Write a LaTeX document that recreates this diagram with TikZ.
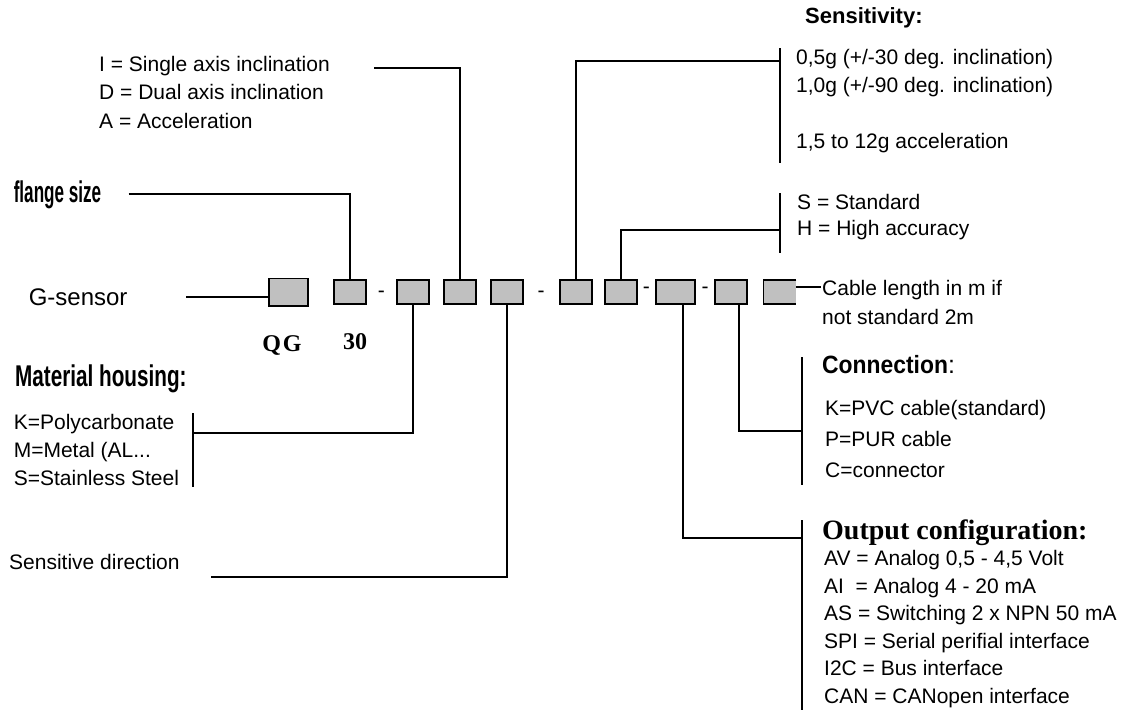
\documentclass[tikz,border=0pt]{standalone}
\usepackage{fontspec}
\setmainfont{Liberation Sans}
\newfontfamily\serifbf{Liberation Serif}
\usepackage{graphicx}
\usetikzlibrary{positioning,calc}
\definecolor{boxgray}{HTML}{C0C0C0}
\tikzset{
    cell/.style={draw, fill=boxgray, line width=1.8pt, minimum width=32pt, minimum height=24.5pt, inner sep=0pt},
    lbl/.style={anchor=west, inner sep=0pt, align=left, font=\fontsize{21}{28}\selectfont},
    sep/.style={inner sep=0pt, font=\fontsize{21}{21}\selectfont},
    wire/.style={line width=1.8pt}
}
\begin{document}
\begin{tikzpicture}[x=1pt, y=-1pt]
    \fill[white] (0,0) rectangle (1127,710);
    \useasboundingbox (0,0) rectangle (1127,710);

    \node[cell, minimum width=39.2pt, minimum height=27.2pt] (b1) at (288.5,292) {};
    \node[cell, right=24pt of b1] (b2) {};
    \node[cell, right=29pt of b2] (b3) {};
    \node[cell, right=13.5pt of b3] (b4) {};
    \node[cell, right=13pt of b4] (b5) {};
    \node[cell, right=35pt of b5] (b6) {};
    \node[cell, right=11.5pt of b6] (b7) {};
    \node[cell, right=17pt of b7, minimum width=39.2pt] (b8) {};
    \node[cell, right=18.5pt of b8] (b9) {};
    \node[cell, draw=none, right=14.5pt of b9] (b10) {};
    \draw[wire] ([yshift=-0.9pt]b10.north east) -- ([xshift=0.9pt,yshift=-0.9pt]b10.north west)
        -- ([xshift=0.9pt,yshift=0.9pt]b10.south west) -- ([yshift=0.9pt]b10.south east);

    \node[sep] (d1) at ($(b2.east)!0.5!(b3.west)+(0,2)$) {-};
    \node[sep] (d2) at ($(b5.east)!0.5!(b6.west)+(0,2)$) {-};
    \node[sep] (d3) at ($(b7.east)!0.5!(b8.west)+(0,-2)$) {-};
    \node[sep] (d4) at ($(b8.east)!0.5!(b9.west)+(0,-2)$) {-};

    \node[lbl, font=\fontsize{24}{24}\selectfont] (gsensor) at (28.6,297) {G-sensor};
    \node[lbl, font=\bfseries\fontsize{30}{30}\selectfont] (flange) at (13.6,195) {\scalebox{0.57}[1]{flange size}};
    \node[lbl, font=\fontsize{21}{28.5}\selectfont] (incl) at (99,92) {I = Single axis inclination\\D = Dual axis inclination\\A = Acceleration};
    \node[inner sep=0pt, font=\serifbf\bfseries\fontsize{24}{24}\selectfont] (qg) at (282,345) {Q\kern2pt G};
    \node[inner sep=0pt, font=\serifbf\bfseries\fontsize{24}{24}\selectfont] (size) at (355,342) {30};
    \node[lbl, font=\bfseries\fontsize{30}{30}\selectfont] (housing) at (15,379) {\scalebox{0.69}[1]{Material housing:}};
    \node[lbl] (material) at (13.6,450) {K=Polycarbonate\\M=Metal (AL...\\S=Stainless Steel};
    \node[lbl] (direction) at (9,562) {Sensitive direction};

    \node[lbl, font=\bfseries\fontsize{22}{22}\selectfont] (sens) at (805,18) {Sensitivity:};
    \node[lbl] (range) at (796,101) {0,5g (+/-30 deg. inclination)\\1,0g (+/-90 deg. inclination)\\[28pt]1,5 to 12g acceleration};
    \node[lbl, font=\fontsize{21}{26}\selectfont] (accuracy) at (797,217) {S = Standard\\H = High accuracy};
    \node[lbl, font=\fontsize{21}{29}\selectfont] (cable) at (822,302.5) {Cable length in m if\\not standard 2m};
    \node[lbl, font=\fontsize{25}{25}\selectfont] (conn) at (822,365) {\scalebox{0.915}[1]{\bfseries Connection}:};
    \node[lbl, font=\fontsize{21}{31}\selectfont] (connection) at (825,439) {K=PVC cable(standard)\\P=PUR cable\\C=connector};
    \node[lbl, font=\serifbf\bfseries\fontsize{28}{28}\selectfont] (out) at (822,533) {Output configuration:};
    \node[lbl, font=\fontsize{21}{27.6}\selectfont] (output) at (824,629) {AV = Analog 0,5 - 4,5 Volt\\AI\ \ = Analog 4 - 20 mA\\AS = Switching 2 x NPN 50 mA\\SPI = Serial perifial interface\\I2C = Bus interface\\CAN = CANopen interface};

    \coordinate (gsend) at (186,297);
    \coordinate (flend) at (128.6,194);
    \coordinate (inclend) at (374,68);
    \coordinate (housebar) at (193,433);
    \coordinate (dirend) at (211,577);
    \coordinate (sensbar) at (780,61);
    \coordinate (accbar) at (780,230);
    \coordinate (connbar) at (802,431);
    \coordinate (outbar) at (802,538);
    \coordinate (cabend) at (821,287);

    \draw[wire] (gsend) -- (gsend -| b1.west);
    \draw[wire] (flend) -| (b2.north);
    \draw[wire] (inclend) -| (b4.north);
    \draw[wire] (housebar) -| (b3.south);
    \draw[wire] (dirend) -| (b5.south);
    \draw[wire] (b6.north) |- (sensbar);
    \draw[wire] (b7.north) |- (accbar);
    \draw[wire] ([xshift=8pt]b8.south) |- (outbar);
    \draw[wire] ([xshift=8pt]b9.south) |- (connbar);
    \draw[wire] (cabend -| b10.east) -- (cabend);

    \draw[wire] (193,413) -- (193,487);
    \draw[wire] (780,48) -- (780,163);
    \draw[wire] (780,193) -- (780,253);
    \draw[wire] (802,357) -- (802,485);
    \draw[wire] (802,520) -- (802,710);
\end{tikzpicture}
\end{document}
